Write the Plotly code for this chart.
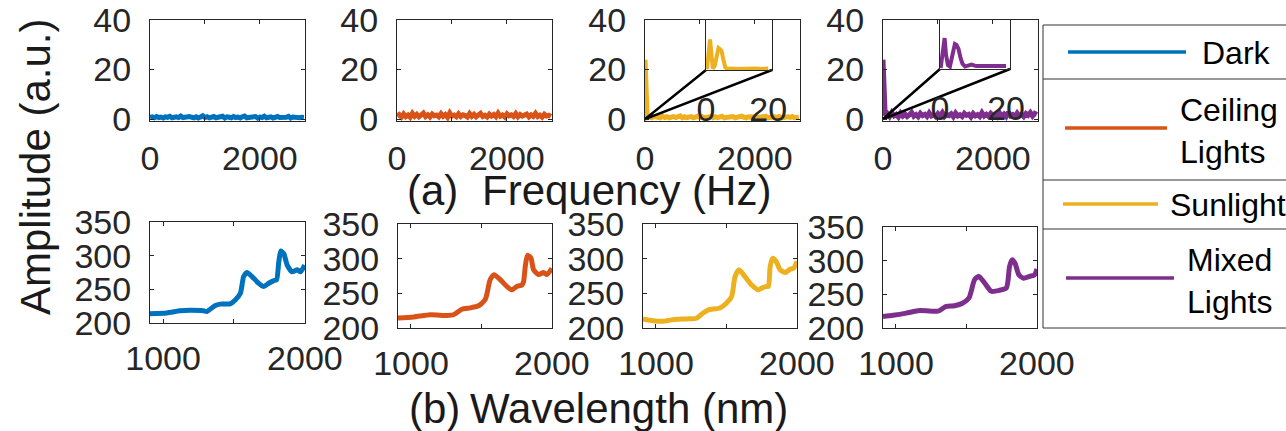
import numpy as np
import plotly.graph_objects as go

W, H = 1286, 431

# ---------------- data ----------------
series_names = ["Dark", "Ceiling Lights", "Sunlight", "Mixed Lights"]
legend_labels = ["Dark", "Ceiling<br>Lights", "Sunlight", "Mixed<br>Lights"]
colors = ["#0072BD", "#D95319", "#EDB120", "#7E2F8E"]

freq_max_hz = 2800

fft_dark = [0.7, 0.9, 0.5, 1.0, 0.6, 0.8, 0.4, 0.9, 0.7, 1.1, 0.5, 0.8, 0.9, 0.6, 1.2, 0.6, 0.8, 0.5, 1.0, 0.7,
            0.5, 0.9, 0.4, 0.8, 1.3, 0.6, 0.9, 0.5, 0.7, 1.0, 0.5, 0.8, 0.6, 1.1, 0.4, 0.9, 0.7, 0.5, 1.0, 0.6,
            0.8, 0.4, 0.9, 1.2, 0.5, 0.7, 0.9, 0.6, 1.0, 0.4, 0.8, 0.6, 1.1, 0.5, 0.7, 0.9, 0.4, 0.8, 1.0, 0.6,
            0.5, 0.9, 0.7, 1.1, 0.4, 0.8, 0.6, 0.9, 0.5, 0.7, 0.6]
fft_ceiling = [1.2, 1.8, 0.8, 2.1, 1.0, 1.6, 0.7, 2.3, 1.1, 1.9, 0.9, 1.5, 2.4, 1.0, 1.7, 0.8, 2.0, 1.3, 1.6, 0.9,
               2.2, 1.1, 1.8, 0.7, 2.5, 1.2, 1.6, 0.9, 2.1, 1.0, 1.7, 1.4, 0.8, 2.2, 1.1, 1.9, 0.9, 1.6, 2.3, 1.0,
               1.5, 0.8, 2.0, 1.2, 1.8, 0.9, 2.4, 1.1, 1.6, 0.8, 2.1, 1.3, 1.7, 1.0, 2.2, 0.9, 1.8, 1.2, 1.5, 2.0,
               0.9, 1.7, 1.1, 2.3, 1.0, 1.6, 0.8, 1.9, 1.2, 1.5, 1.0]
fft_sunlight = [24.0, 0.6, 0.9, 0.5, 1.0, 0.7, 0.8, 0.5, 1.1, 0.6, 0.9, 0.5, 0.8, 1.0, 0.6, 0.7, 1.3, 0.5, 0.9, 0.6,
                0.8, 1.0, 0.5, 0.7, 1.1, 0.6, 0.9, 0.5, 0.8, 0.7, 1.0, 0.5, 0.9, 0.6, 0.8, 1.1, 0.5, 0.7, 0.9, 0.6,
                1.0, 0.5, 0.8, 0.6, 1.2, 0.7, 0.5, 0.9, 0.6, 0.8, 1.0, 0.5, 0.7, 0.9, 0.6, 1.1, 0.5, 0.8, 0.7, 0.9,
                0.6, 1.0, 0.5, 0.8, 0.6, 0.9, 0.7, 1.0, 0.5, 0.8, 0.7]
fft_mixed = [24.0, 1.5, 2.2, 1.0, 2.6, 1.3, 1.9, 0.8, 2.4, 1.2, 2.0, 1.0, 1.7, 2.7, 1.1, 1.8, 0.9, 2.3, 1.4, 1.9,
             1.0, 2.5, 1.2, 1.7, 0.9, 2.2, 1.3, 2.6, 1.0, 1.8, 1.4, 2.1, 0.9, 2.4, 1.2, 1.7, 1.0, 2.3, 1.5, 1.9,
             0.8, 2.2, 1.3, 1.8, 1.0, 2.6, 1.2, 1.9, 1.1, 2.3, 1.4, 1.7, 0.9, 2.5, 1.2, 2.0, 1.0, 2.8, 1.3, 1.8,
             1.1, 2.4, 1.2, 1.9, 1.0, 2.2, 1.5, 2.6, 1.2, 2.3, 1.8]

# zoomed insets (0-20 Hz)
inset_freq_sun = [0.3, 0.7, 1.0, 1.3, 1.7, 2.2, 2.8, 3.4, 4.0, 4.4, 5.0, 5.5, 6.2, 7.0, 8.0, 10.0, 12.0, 14.0, 16.0, 18.0, 20.0]
inset_amp_sun = [0.2, 2.5, 5.2, 6.1, 3.5, 0.3, 0.8, 3.0, 4.4, 4.2, 3.8, 2.3, 0.5, 0.2, 0.3, 0.2, 0.3, 0.2, 0.3, 0.2, 0.3]
inset_freq_mix = [0.2, 0.8, 1.1, 1.4, 1.8, 2.4, 3.0, 3.8, 4.5, 5.0, 5.6, 6.2, 6.8, 7.6, 8.5, 9.5, 11.0, 13.0, 15.0, 17.0, 19.0, 20.0]
inset_amp_mix = [0.2, 3.5, 5.8, 6.3, 3.0, 0.8, 0.5, 3.5, 5.1, 4.9, 4.1, 2.3, 1.1, 0.5, 0.7, 0.9, 0.6, 0.6, 0.7, 0.6, 0.7, 0.6]

# spectra (wavelength nm, amplitude)
wl_dark = [908, 1026, 1120, 1191, 1285, 1309, 1368, 1403, 1474, 1509, 1545, 1568, 1592, 1627, 1674, 1710,
           1745, 1781, 1800, 1816, 1830, 1851, 1875, 1910, 1946, 1969, 1998]
sp_dark = [213.8, 214.8, 218, 218.7, 218, 217, 226, 228, 228.5, 234, 244, 269, 275, 269, 259, 254,
           259, 263, 264, 291, 307, 303, 286, 276, 279, 276, 286]
wl_ceiling = [908, 1019, 1137, 1255, 1302, 1361, 1420, 1479, 1527, 1562, 1590, 1633, 1680, 1716, 1751,
              1787, 1799, 1811, 1827, 1851, 1870, 1905, 1940, 1964, 2000]
sp_ceiling = [214.4, 215.8, 219, 218, 219, 227, 229, 232, 241, 269.8, 277, 269.8, 260, 255, 260,
              262, 267, 289, 305, 301, 284, 277, 280, 277, 286]
wl_sunlight = [908, 979, 1050, 1121, 1217, 1288, 1335, 1371, 1454, 1501, 1537, 1561, 1589, 1632, 1679,
               1727, 1750, 1786, 1798, 1810, 1827, 1853, 1881, 1917, 1953, 1976, 2000]
sp_sunlight = [213, 210.5, 209.6, 212, 213, 214, 221.6, 226, 228.8, 236, 245.5, 274, 284, 274, 262,
               255, 257.5, 260, 260, 288.6, 300.6, 296, 284, 280, 285, 286, 296]
wl_mixed = [908, 979, 1073, 1168, 1286, 1310, 1357, 1416, 1475, 1518, 1558, 1589, 1629, 1676, 1735,
            1783, 1794, 1806, 1825, 1844, 1872, 1905, 1948, 1983, 2000]
sp_mixed = [217, 218.8, 222, 226, 224.8, 226, 232, 233, 237, 244.6, 271.8, 276.7, 266.8, 254.5, 256,
            259.4, 269, 291.6, 301.5, 296.5, 279, 274, 276.7, 279, 287.6]

fft_series = [fft_dark, fft_ceiling, fft_sunlight, fft_mixed]
wl_series = [wl_dark, wl_ceiling, wl_sunlight, wl_mixed]
sp_series = [sp_dark, sp_ceiling, sp_sunlight, sp_mixed]

freq_ticks = [0, 1000, 2000]
freq_ticktext = ["0", "", "2000"]
amp_ticks = [0, 20, 40]
wl_ticks = [1000, 1500, 2000]
wl_ticktext = ["1000", "", "2000"]
spec_ticks = [200, 250, 300, 350]
inset_ticks = [0, 20]

# ---------------- layout geometry (pixels) ----------------
top_x_px = [(150, 305), (397, 552), (645, 800), (883, 1038)]
top_y_px = (20, 121)
bot_x_px = [(150, 305), (398, 552), (643, 797), (883, 1037)]
bot_y_px = [(222, 323), (224, 328), (224, 328), (227, 328)]
inset_x_px = {2: (706, 772), 3: (940, 1010)}
inset_y_px = {2: (20, 70), 3: (20, 69)}

top_xrange = [0, 2820]
top_yrange = [-0.8, 40.05]
bot_xrange = [908, 2000.5]
bot_yrange = [199.9, 350.1]
inset_xrange = [0, 21.2]
inset_yrange = [0, 10]


def xdom(p):
    return [p[0] / W, p[1] / W]


def ydom(p):
    return [1 - p[1] / H, 1 - p[0] / H]


FONT = "Liberation Sans, Arial, Helvetica, sans-serif"
tick_font = dict(family=FONT, size=34, color="#262626")


def base_axis(**kw):
    d = dict(showline=True, linecolor="#262626", linewidth=1, mirror="ticks",
             ticks="inside", ticklen=4, tickwidth=1, tickcolor="#262626",
             tickfont=tick_font, showgrid=False, zeroline=False,
             automargin=False, fixedrange=True, ticklabeloverflow="allow")
    d.update(kw)
    return d


def akey(kind, k):
    return kind + "axis" + ("" if k == 1 else str(k))


fig = go.Figure()
layout_axes = {}

# top row: FFT amplitude
for i in range(4):
    k = i + 1
    vals = fft_series[i]
    f = np.linspace(0, freq_max_hz, len(vals))
    fig.add_trace(go.Scatter(x=f, y=vals, mode="lines", name=series_names[i],
                             line=dict(color=colors[i], width=5), showlegend=False,
                             xaxis="x" + str(k), yaxis="y" + str(k)))
    layout_axes[akey("x", k)] = base_axis(domain=xdom(top_x_px[i]), range=top_xrange, anchor="y" + str(k),
                                          tickvals=freq_ticks, ticktext=freq_ticktext, ticklabelstandoff=7)
    layout_axes[akey("y", k)] = base_axis(domain=ydom(top_y_px), range=top_yrange, anchor="x" + str(k),
                                          tickvals=amp_ticks, ticklabelstandoff=11)

# bottom row: spectra
for i in range(4):
    k = i + 5
    fig.add_trace(go.Scatter(x=wl_series[i], y=sp_series[i], mode="lines", name=series_names[i],
                             line=dict(color=colors[i], width=5, shape="spline", smoothing=0.6),
                             showlegend=False, xaxis="x" + str(k), yaxis="y" + str(k)))
    layout_axes[akey("x", k)] = base_axis(domain=xdom(bot_x_px[i]), range=bot_xrange, anchor="y" + str(k),
                                          tickvals=wl_ticks, ticktext=wl_ticktext, ticklabelstandoff=5)
    layout_axes[akey("y", k)] = base_axis(domain=ydom(bot_y_px[i]), range=bot_yrange, anchor="x" + str(k),
                                          tickvals=spec_ticks, ticklabelstandoff=11)

# zoom indicator lines + insets for Sunlight and Mixed
inset_data = {2: (inset_freq_sun, inset_amp_sun), 3: (inset_freq_mix, inset_amp_mix)}
for j, i in enumerate([2, 3]):
    main_k = i + 1
    k = 9 + j
    mx0, mx1 = top_x_px[i]
    my0, my1 = top_y_px
    ix0, ix1 = inset_x_px[i]
    iy0, iy1 = inset_y_px[i]
    to_x = lambda px: top_xrange[0] + (px - mx0) / (mx1 - mx0) * (top_xrange[1] - top_xrange[0])
    to_y = lambda py: top_yrange[1] - (py - my0) / (my1 - my0) * (top_yrange[1] - top_yrange[0])
    fig.add_trace(go.Scatter(x=[to_x(ix0), 0, to_x(ix1)], y=[to_y(iy1), 0, to_y(iy1)], mode="lines",
                             line=dict(color="black", width=2.5), showlegend=False, hoverinfo="skip",
                             xaxis="x" + str(main_k), yaxis="y" + str(main_k)))
    fx, fy = inset_data[i]
    fig.add_trace(go.Scatter(x=fx, y=fy, mode="lines", name=series_names[i],
                             line=dict(color=colors[i], width=4), showlegend=False,
                             xaxis="x" + str(k), yaxis="y" + str(k)))
    layout_axes[akey("x", k)] = base_axis(domain=xdom(inset_x_px[i]), range=inset_xrange, anchor="y" + str(k),
                                          tickvals=inset_ticks, ticks="", mirror=True, ticklabelstandoff=9)
    layout_axes[akey("y", k)] = base_axis(domain=ydom(inset_y_px[i]), range=inset_yrange, anchor="x" + str(k),
                                          showticklabels=False, ticks="", mirror=True)

# ---------------- legend (drawn box) ----------------
shapes = []
leg_left, leg_top, leg_bottom = 1043, 25, 328
row_edges = [25, 79, 180, 229, 328]
line_col = "#333333"


def px(x):
    return x / W


def py(y):
    return 1 - y / H


shapes.append(dict(type="line", xref="paper", yref="paper", x0=px(leg_left), x1=px(leg_left),
                   y0=py(leg_top), y1=py(leg_bottom), line=dict(color=line_col, width=1)))
for e in row_edges:
    shapes.append(dict(type="line", xref="paper", yref="paper", x0=px(leg_left), x1=1.0,
                       y0=py(e), y1=py(e), line=dict(color=line_col, width=1)))

sample_px = [(1068, 1186, 52), (1065, 1167, 128), (1063, 1158, 204), (1066, 1174, 278)]
text_pos = [(1200, 53), (1178, 131), (1168, 205), (1185, 281)]
annotations = []
for i in range(4):
    x0, x1, yy = sample_px[i]
    shapes.append(dict(type="line", xref="paper", yref="paper", x0=px(x0), x1=px(x1),
                       y0=py(yy), y1=py(yy), line=dict(color=colors[i], width=3.5)))
    tx, ty = text_pos[i]
    annotations.append(dict(text=legend_labels[i], xref="paper", yref="paper", x=px(tx), y=py(ty),
                            xanchor="left", yanchor="middle", showarrow=False, align="left",
                            font=dict(family=FONT, size=32, color="black")))

# ---------------- titles ----------------
title_font = dict(family=FONT, size=42, color="#1a1a1a")
for text, x, y, ang in [("Amplitude (a.u.)", 35, 167, -90),
                        ("(a)", 432, 190, 0),
                        ("Frequency (Hz)", 626, 190, 0),
                        ("(b)", 434, 408, 0),
                        ("Wavelength (nm)", 629, 408, 0)]:
    annotations.append(dict(text=text, xref="paper", yref="paper", x=px(x), y=py(y),
                            xanchor="center", yanchor="middle", showarrow=False,
                            textangle=ang, font=title_font))

fig.update_layout(
    width=W, height=H,
    margin=dict(l=0, r=0, t=0, b=0, autoexpand=False),
    paper_bgcolor="white", plot_bgcolor="rgba(0,0,0,0)",
    showlegend=False, template="none",
    shapes=shapes, annotations=annotations,
    **layout_axes,
)

fig.write_html("out.html", config={"displayModeBar": False})
